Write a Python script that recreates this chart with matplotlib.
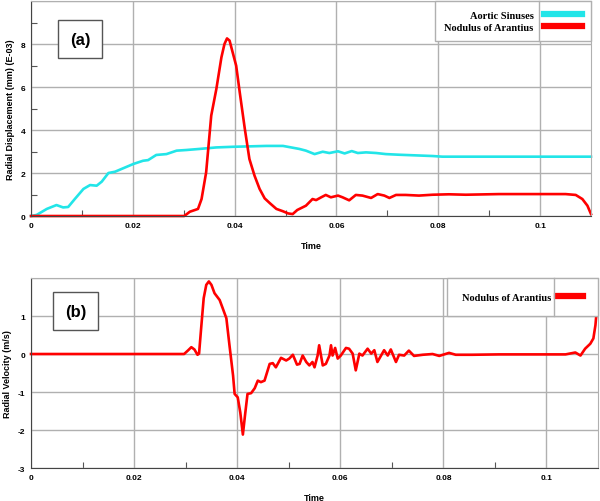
# Radial displacement / velocity of aortic valve regions
import numpy as np
import matplotlib
matplotlib.use('Agg')
import matplotlib.pyplot as plt
from matplotlib.lines import Line2D

# ---- data ----
# (a) Aortic Sinuses displacement (E-03 mm)
sinus_t = [0, 0.0011, 0.0031, 0.005, 0.0063, 0.0073, 0.0086, 0.0103, 0.0116, 0.0129,
           0.0139, 0.0152, 0.0165, 0.0178, 0.0201, 0.022, 0.023, 0.0246, 0.0266, 0.0286,
           0.0305, 0.0331, 0.0364, 0.0397, 0.043, 0.0462, 0.0495, 0.0527, 0.054, 0.0557,
           0.0573, 0.0586, 0.0603, 0.0616, 0.063, 0.0642, 0.0658, 0.0678, 0.0697, 0.0723,
           0.0756, 0.0789, 0.0808, 0.0854, 0.0919, 0.0985, 0.11]
sinus_d = [0, 0.05, 0.33, 0.51, 0.40, 0.42, 0.79, 1.26, 1.44, 1.41,
           1.6, 2.0, 2.06, 2.19, 2.42, 2.57, 2.6, 2.84, 2.88, 3.04,
           3.07, 3.12, 3.19, 3.22, 3.24, 3.26, 3.26, 3.12, 3.04, 2.88,
           2.99, 2.93, 3.01, 2.91, 3.02, 2.93, 2.96, 2.93, 2.88, 2.85,
           2.82, 2.79, 2.76, 2.76, 2.76, 2.76, 2.76]

# (a) Nodulus of Arantius displacement (E-03 mm)
nod_t = [0, 0.0301, 0.0312, 0.0322, 0.0328, 0.0335, 0.0344, 0.0354, 0.0364, 0.0374,
         0.038, 0.0385, 0.039, 0.0397, 0.0403, 0.041, 0.042, 0.0429, 0.0439, 0.0449,
         0.0459, 0.0469, 0.0482, 0.0495, 0.0505, 0.0514, 0.0523, 0.054, 0.0553, 0.056,
         0.057, 0.0579, 0.0589, 0.0603, 0.0612, 0.0625, 0.0638, 0.0651, 0.0668, 0.0681,
         0.0694, 0.0704, 0.0717, 0.0736, 0.0762, 0.0789, 0.0821, 0.0854, 0.0919, 0.0985,
         0.105, 0.107, 0.1083, 0.1093, 0.11]
nod_d = [0, 0, 0.2, 0.28, 0.33, 0.79, 2.03, 4.67, 5.9, 7.38,
         8.0, 8.26, 8.16, 7.53, 6.99, 5.75, 4.05, 2.65, 1.88, 1.26,
         0.82, 0.6, 0.33, 0.22, 0.12, 0.09, 0.28, 0.48, 0.79, 0.74,
         0.87, 0.98, 0.87, 0.95, 0.87, 0.73, 0.98, 0.95, 0.84, 1.02,
         0.95, 0.84, 0.98, 0.98, 0.95, 0.99, 1.01, 0.99, 1.02, 1.02,
         1.02, 0.98, 0.79, 0.48, 0.09]

# (b) Nodulus of Arantius radial velocity (m/s)
vel_t = [0, 0.0297, 0.0305, 0.0311, 0.0317, 0.0323, 0.0326, 0.033, 0.0335, 0.034,
         0.0345, 0.035, 0.0356, 0.0366, 0.0372, 0.0379, 0.0385, 0.0392, 0.0395, 0.0401,
         0.0406, 0.0411, 0.0415, 0.042, 0.0427, 0.0434, 0.044, 0.0446, 0.0453, 0.0463,
         0.0469, 0.0475, 0.0485, 0.0495, 0.0501, 0.0508, 0.0516, 0.0521, 0.0527, 0.0534,
         0.054, 0.0546, 0.055, 0.0556, 0.0559, 0.0566, 0.0572, 0.0579, 0.0582, 0.0585,
         0.059, 0.0595, 0.0601, 0.0611, 0.0617, 0.0624, 0.063, 0.0637, 0.0643, 0.0653,
         0.066, 0.0666, 0.0672, 0.0685, 0.0692, 0.0698, 0.0708, 0.0714, 0.0724, 0.0733,
         0.0743, 0.076, 0.0779, 0.0792, 0.0811, 0.0824, 0.0856, 0.0908, 0.0972, 0.1037,
         0.1056, 0.1066, 0.1075, 0.1085, 0.1091, 0.1095, 0.1097]
vel_v = [0, 0, 0.1, 0.18, 0.12, -0.02, 0.01, 0.67, 1.47, 1.82,
         1.91, 1.82, 1.6, 1.42, 1.2, 0.94, 0.23, -0.57, -1.05, -1.14,
         -1.54, -2.12, -1.63, -1.05, -1.03, -0.9, -0.7, -0.74, -0.7, -0.26,
         -0.24, -0.35, -0.1, -0.17, -0.12, -0.02, -0.28, -0.26, -0.04, -0.21,
         -0.3, -0.21, -0.35, -0.04, 0.23, -0.3, -0.26, -0.04, 0.23, -0.04,
         0.16, -0.12, -0.04, 0.16, 0.14, 0.01, -0.43, 0.01, -0.04, 0.14,
         0.01, 0.1, -0.21, 0.1, -0.04, 0.12, -0.21, -0.02, -0.04, 0.09,
         -0.05, -0.02, 0, -0.05, 0.03, -0.02, -0.02, -0.01, -0.01, -0.01,
         0.04, -0.04, 0.14, 0.27, 0.41, 0.76, 1.07]

x_ticks = [0, 0.02, 0.04, 0.06, 0.08, 0.1]
x_labels = ['0', '0.02', '0.04', '0.06', '0.08', '0.1']
disp_ticks = [0, 2, 4, 6, 8]
vel_ticks = [-3, -2, -1, 0, 1]

CYAN = '#22e5e8'
RED = '#ff0000'
GRID = '#b0b0b0'
SANS = 'Liberation Sans'
SERIF = 'Liberation Serif'

fig = plt.figure(figsize=(6, 5.02), dpi=100)
ax1 = fig.add_axes([0.0517, 0.5677, 0.9333, 0.4283])
ax2 = fig.add_axes([0.0517, 0.0657, 0.945, 0.3785])


def style(ax, ylim, yticks, ylabel):
    ax.set_xlim(0, 0.11)
    ax.set_ylim(*ylim)
    ax.set_xticks(x_ticks)
    ax.set_xticklabels(x_labels)
    ax.set_yticks(yticks)
    ax.set_yticklabels([str(v) for v in yticks])
    ax.set_xticks(np.arange(0.01, 0.11, 0.02), minor=True)
    ax.set_yticks(np.arange(ylim[0] + 1, ylim[1], 2), minor=True)
    ax.grid(True, which='major', color=GRID, lw=1.0)
    ax.axhline(ylim[1], color=GRID, lw=1.0)
    ax.tick_params(which='major', length=0, pad=4, labelsize=6)
    ax.tick_params(which='minor', direction='in', length=4, color='#555555', width=0.8)
    for lab in ax.get_xticklabels() + ax.get_yticklabels():
        lab.set_fontweight('bold')
        lab.set_family(SANS)
    for s in ['top', 'right']:
        ax.spines[s].set_color(GRID)
    for s in ['left', 'bottom']:
        ax.spines[s].set_color('#444444')
    ax.set_xlabel('Time', fontsize=6.5, fontweight='bold', family=SANS, labelpad=9)
    ax.set_ylabel(ylabel, fontsize=6.5, fontweight='bold', family=SANS, labelpad=4)
    ax.set_axisbelow(True)


style(ax1, (0, 10), disp_ticks, 'Radial Displacement (mm) (E-03)')
style(ax2, (-3, 2), vel_ticks, 'Radial Velocity (m/s)')

ax1.plot(sinus_t, sinus_d, color=CYAN, lw=1.9, label='Aortic Sinuses', clip_on=False)
ax1.plot(nod_t, nod_d, color=RED, lw=1.9, label='Nodulus of Arantius', clip_on=False)
ax2.plot(vel_t, vel_v, color=RED, lw=1.9, label='Nodulus of Arantius', clip_on=False)

# panel tags
box = dict(boxstyle='square,pad=0.7', fc='white', ec='#555555', lw=1.0)
ax1.text(0.0875, 0.823, '(a)', transform=ax1.transAxes, ha='center', va='center',
         fontsize=12, fontweight='bold', family=SANS, bbox=box, zorder=5)
ax2.text(0.079, 0.826, '(b)', transform=ax2.transAxes, ha='center', va='center',
         fontsize=12, fontweight='bold', family=SANS, bbox=box, zorder=5)

legs = []
leg1 = ax1.legend(loc='upper right', markerfirst=False, handlelength=3.6,
                  handletextpad=1.0, borderpad=0.9, labelspacing=0.25,
                  borderaxespad=0, fancybox=False, edgecolor=GRID, framealpha=1,
                  prop=dict(family=SERIF, weight='bold', size=7.5))
legs.append((ax1, leg1))
leg2 = ax2.legend(loc='upper right', markerfirst=False, handlelength=2.5,
                  handletextpad=0.6, borderpad=1.4, borderaxespad=0,
                  fancybox=False, edgecolor=GRID, framealpha=1,
                  prop=dict(family=SERIF, weight='bold', size=7.5))
legs.append((ax2, leg2))
for leg in (leg1, leg2):
    leg.get_frame().set_linewidth(1.0)
    for h in leg.legend_handles:
        h.set_linewidth(4.5)

# divider between legend labels and swatches
fig.canvas.draw()
r = fig.canvas.get_renderer()
inv = fig.transFigure.inverted()
for ax, leg in legs:
    fb = leg.get_frame().get_window_extent(r)
    tx = max(t.get_window_extent(r).x1 for t in leg.get_texts())
    hx = min(h.get_window_extent(r).x0 for h in leg.legend_handles)
    xm = (tx + hx) / 2
    (x0, y0), (x1, y1) = inv.transform([(xm, fb.y0), (xm, fb.y1)])
    fig.add_artist(Line2D([x0, x1], [y0, y1], color=GRID, lw=1.0, zorder=10))

fig.savefig('out.png', dpi=100)
